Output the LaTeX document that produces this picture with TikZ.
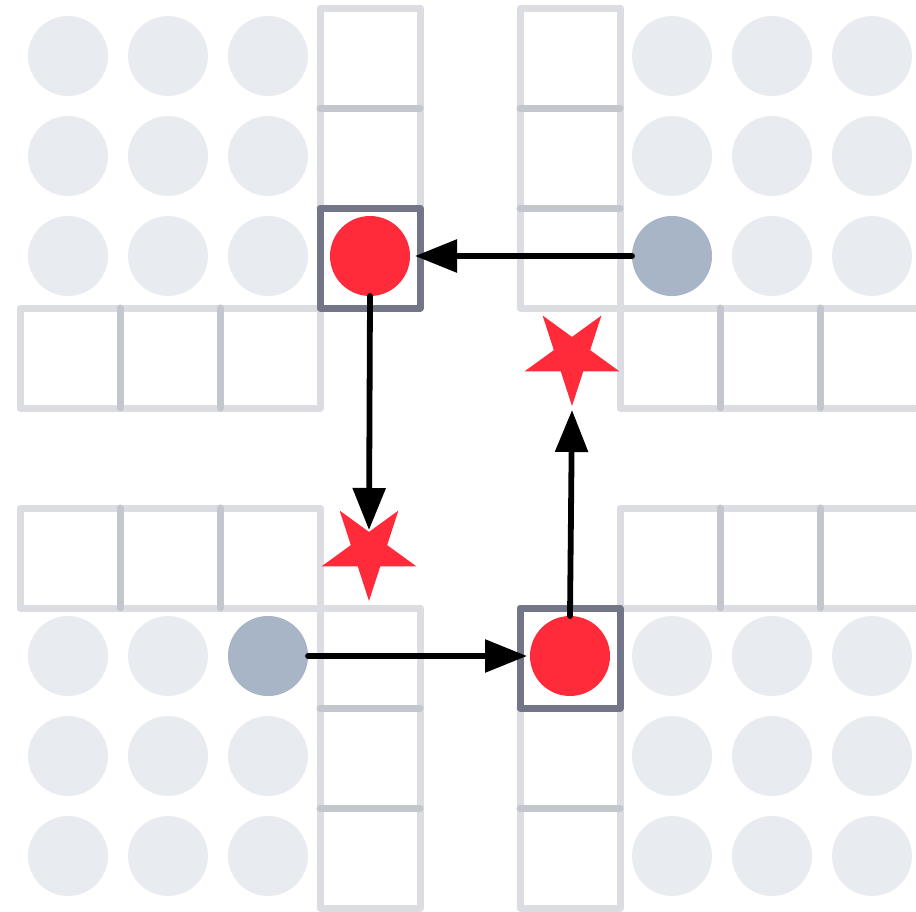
\documentclass[tikz,border=0pt]{standalone}
\usetikzlibrary{arrows.meta,shapes.geometric}
\definecolor{framegray}{HTML}{DCDDE2}
\definecolor{divgray}{HTML}{C4C6CD}
\definecolor{darkframe}{HTML}{737589}
\definecolor{lightdot}{HTML}{E8EBF0}
\definecolor{pawngray}{HTML}{A8B5C6}
\definecolor{piecered}{HTML}{FF2A3A}
\begin{document}
\begin{tikzpicture}[x=1pt,y=-1pt,
  cellframe/.style={draw=framegray, line width=7pt, line join=round},
  divider/.style={draw=divgray, line width=7pt, line cap=round},
  hilite/.style={draw=darkframe, line width=7pt, line join=round},
  dot/.style={circle, minimum size=80pt, inner sep=0pt, outer sep=0pt, fill=lightdot},
  pawn/.style={dot, fill=pawngray},
  piece/.style={dot, fill=piecered},
  target/.style={star, star points=5, star point ratio=2.618, shape border rotate=180,
                 minimum size=100pt, inner sep=0pt, outer sep=0pt, fill=piecered},
  move/.style={draw=black, line width=5.8pt, line cap=round, -{Triangle[length=42pt,width=32pt]}}]
\useasboundingbox (0,0) rectangle (916,911);

% track frames
\draw[cellframe] (320,8) rectangle (420,308);
\draw[cellframe] (520,8) rectangle (620,308);
\draw[cellframe] (20,308) rectangle (320,408);
\draw[cellframe] (620,308) rectangle (920,408);
\draw[cellframe] (20,508) rectangle (320,608);
\draw[cellframe] (620,508) rectangle (920,608);
\draw[cellframe] (320,608) rectangle (420,908);
\draw[cellframe] (520,608) rectangle (620,908);

% dividers
\foreach \y in {108,208} {
  \draw[divider] (320,\y) -- (420,\y);
  \draw[divider] (520,\y) -- (620,\y);
}
\foreach \y in {708,808} {
  \draw[divider] (320,\y) -- (420,\y);
  \draw[divider] (520,\y) -- (620,\y);
}
\foreach \x in {120,220} {
  \draw[divider] (\x,308) -- (\x,408);
  \draw[divider] (\x,508) -- (\x,608);
}
\foreach \x in {720,820} {
  \draw[divider] (\x,308) -- (\x,408);
  \draw[divider] (\x,508) -- (\x,608);
}

% highlighted cells
\draw[hilite] (320,208) rectangle (420,308);
\draw[hilite] (520,608) rectangle (620,708);

% home dots
\foreach \x/\i in {68/1,168/2,268/3} {
  \foreach \y/\j in {56/1,156/2,256/3} {
    \node[dot] (tl\i\j) at (\x,\y) {};
  }
  \foreach \y/\j in {656/1,756/2,856/3} {
    \node[dot] (bl\i\j) at (\x,\y) {};
  }
}
\foreach \x/\i in {672/1,772/2,872/3} {
  \foreach \y/\j in {56/1,156/2,256/3} {
    \node[dot] (tr\i\j) at (\x,\y) {};
  }
  \foreach \y/\j in {656/1,756/2,856/3} {
    \node[dot] (br\i\j) at (\x,\y) {};
  }
}

% pawns and pieces
\node[pawn] (g1) at (672,256) {};
\node[pawn] (g2) at (268,656) {};
\node[piece] (r1) at (370,256) {};
\node[piece] (r2) at (570,656) {};

% targets
\node[target] (s1) at (369,551) {};
\node[target] (s2) at (572,356) {};

% moves
\draw[move] (g1.west) -- ([xshift=5pt]r1.east);
\draw[move] (r1.south) -- ([yshift=21pt]s1.center);
\draw[move] (g2.east) -- ([xshift=-3pt]r2.west);
\draw[move] (r2.north) -- ([yshift=-54pt]s2.center);
\end{tikzpicture}
\end{document}
